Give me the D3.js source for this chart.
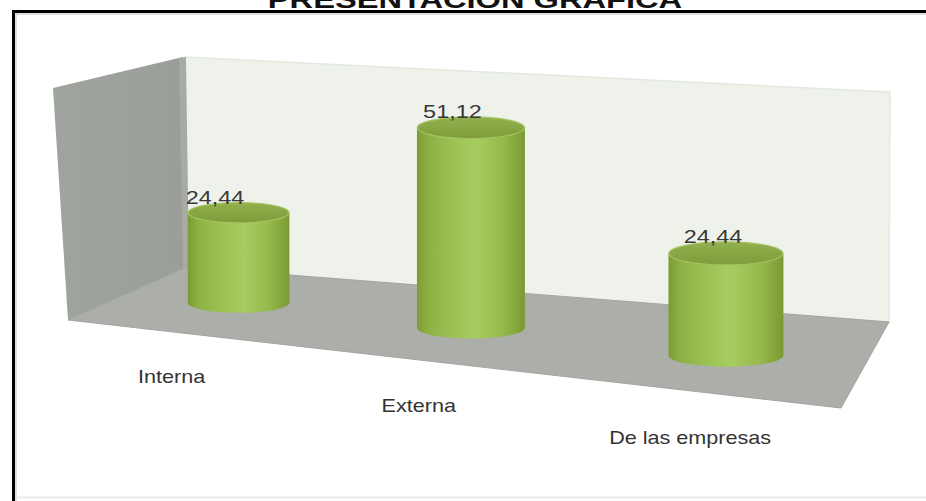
<!DOCTYPE html>
<html>
<head>
<meta charset="utf-8">
<script src="https://cdn.jsdelivr.net/npm/d3@7"></script>
<style>
  html, body { margin: 0; padding: 0; background: #ffffff; }
  svg { display: block; }
</style>
</head>
<body>
<script>
// ---- data ----
const title = "PRESENTACION GRAFICA";
const categories = ["Interna", "Externa", "De las empresas"];
const values = [24.44, 51.12, 24.44];
const valueDomain = [0, 60];

// ---- layout ----
const W = 926, H = 501;
const FONT = "'Liberation Sans', Arial, sans-serif";
const TEXT_STRETCH = 1.3;

// 3-D frame (screen coordinates of the box walls)
const sideWall = [[53, 88], [183, 57], [187, 267], [68, 320]];
const sideEdge = [[179, 58], [186, 57], [189, 267], [183, 269]];
const backWall = [[185, 57], [890, 92], [889, 322], [187, 267]];
const floorPoly = [[68, 320], [187, 267], [889, 322], [841, 408]];

// perspective along the category axis (right side is nearer)
const PERSPECTIVE = 0.15;
const warp = u => u / (1 + PERSPECTIVE * (1 - u));

// ground line through the middle of the floor depth, and the front edge
const base = d3.scaleLinear().domain([0, 1]).range([[130, 291], [863, 370]]);
const front = d3.scaleLinear().domain([0, 1]).range([[56, 325], [836, 417]]);
// pixel height of the full value range at each point of the ground line
const depthH = d3.scaleLinear().domain([0, 1]).range([214.5, 258]);
const labelShift = d3.scaleLinear().domain([0, 1]).range([-26, -10]);

const x = d3.scaleBand().domain(categories).range([0, 1])
  .paddingInner(0.55).paddingOuter(0.275);
const y = d3.scaleLinear().domain(valueDomain).range([0, 1]);
const fmt = d3.formatLocale({ decimal: ",", thousands: ".", grouping: [3], currency: ["", ""] }).format(".2f");

const svg = d3.select("body").append("svg")
  .attr("width", W).attr("height", H);

svg.append("rect").attr("width", W).attr("height", H).attr("fill", "#ffffff");

const defs = svg.append("defs");
const bodyGrad = defs.append("linearGradient").attr("id", "cylBody")
  .attr("x1", 0).attr("x2", 1).attr("y1", 0).attr("y2", 0);
[[0, "#7b9b34"], [0.1, "#8db043"], [0.35, "#9ec355"], [0.55, "#a7cc60"], [0.8, "#95b94a"], [1, "#7a9933"]]
  .forEach(([o, c]) => bodyGrad.append("stop").attr("offset", o).attr("stop-color", c));
const topGrad = defs.append("linearGradient").attr("id", "cylTop")
  .attr("x1", 0).attr("x2", 0).attr("y1", 0).attr("y2", 1);
[[0, "#93b04f"], [0.6, "#86a442"], [1, "#7f9c3c"]]
  .forEach(([o, c]) => topGrad.append("stop").attr("offset", o).attr("stop-color", c));
const wallGrad = defs.append("linearGradient").attr("id", "sideGrad")
  .attr("x1", 0).attr("x2", 1).attr("y1", 0).attr("y2", 0);
[[0, "#a0a49e"], [1, "#9a9e98"]]
  .forEach(([o, c]) => wallGrad.append("stop").attr("offset", o).attr("stop-color", c));

// ---- page frame ----
svg.append("path").attr("d", `M${W},11.5 H13.5 V${H}`)
  .attr("fill", "none").attr("stroke", "#000").attr("stroke-width", 3);
svg.append("path").attr("d", `M16,${H} V14 H${W}`)
  .attr("fill", "none").attr("stroke", "#d2d2d2").attr("stroke-width", 1.5);
svg.append("line").attr("x1", 16).attr("x2", W).attr("y1", 497.5).attr("y2", 497.5)
  .attr("stroke", "#ececec").attr("stroke-width", 2);

// ---- title (sits above the frame, its top runs off the page) ----
svg.append("g").attr("transform", `translate(475,8) scale(1.36,1)`)
  .append("text").attr("text-anchor", "middle")
  .attr("font-family", FONT).attr("font-weight", "bold").attr("font-size", 24)
  .attr("fill", "#111").text(title);

// ---- walls and floor ----
const poly = pts => "M" + pts.map(p => p.join(",")).join("L") + "Z";
svg.append("path").attr("d", poly(backWall)).attr("fill", "#eef2eb")
  .attr("stroke", "#e3e9df").attr("stroke-width", 1.5);
svg.append("path").attr("d", poly(sideWall)).attr("fill", "url(#sideGrad)");
svg.append("path").attr("d", poly(sideEdge)).attr("fill", "#a7aba4");
svg.append("path").attr("d", poly(floorPoly)).attr("fill", "#acaeaa")
  .attr("stroke", "#a2a4a0").attr("stroke-width", 1);

// ---- cylinders ----
const bars = categories.map((c, i) => {
  const s = warp(x(c) + x.bandwidth() / 2);
  const [cx, cy] = base(s);
  const full = depthH(s);
  const h = y(values[i]) * full;
  const rx = full * 0.23;
  const ry = rx * 0.2;
  return { c, v: values[i], s, cx, cy, top: cy - h, rx, ry };
});

const g = svg.append("g");
const cyl = g.selectAll("g.cyl").data(bars).join("g").attr("class", "cyl");
cyl.append("path")
  .attr("d", d => `M${d.cx - d.rx},${d.top} L${d.cx - d.rx},${d.cy} ` +
    `A${d.rx},${d.ry} 0 0 0 ${d.cx + d.rx},${d.cy} L${d.cx + d.rx},${d.top} Z`)
  .attr("fill", "url(#cylBody)");
cyl.append("ellipse")
  .attr("cx", d => d.cx).attr("cy", d => d.top)
  .attr("rx", d => d.rx - 0.5).attr("ry", d => d.ry)
  .attr("fill", "url(#cylTop)")
  .attr("stroke", "#a3c35d").attr("stroke-width", 1.2);

// value labels
cyl.append("g")
  .attr("transform", d => `translate(${d.cx + labelShift(d.s)},${d.top - d.ry + 1}) scale(${TEXT_STRETCH},1)`)
  .append("text").attr("text-anchor", "middle")
  .attr("font-family", FONT).attr("font-size", 18).attr("fill", "#383838")
  .text(d => fmt(d.v));

// category labels along the front edge of the floor
svg.append("g").selectAll("g").data(bars).join("g")
  .attr("transform", d => {
    const [fx, fy] = front(d.s);
    return `translate(${fx},${fy + 44}) scale(1.2,1)`;
  })
  .append("text").attr("text-anchor", "middle")
  .attr("font-family", FONT).attr("font-size", 18).attr("fill", "#333")
  .text(d => d.c);
</script>
</body>
</html>
